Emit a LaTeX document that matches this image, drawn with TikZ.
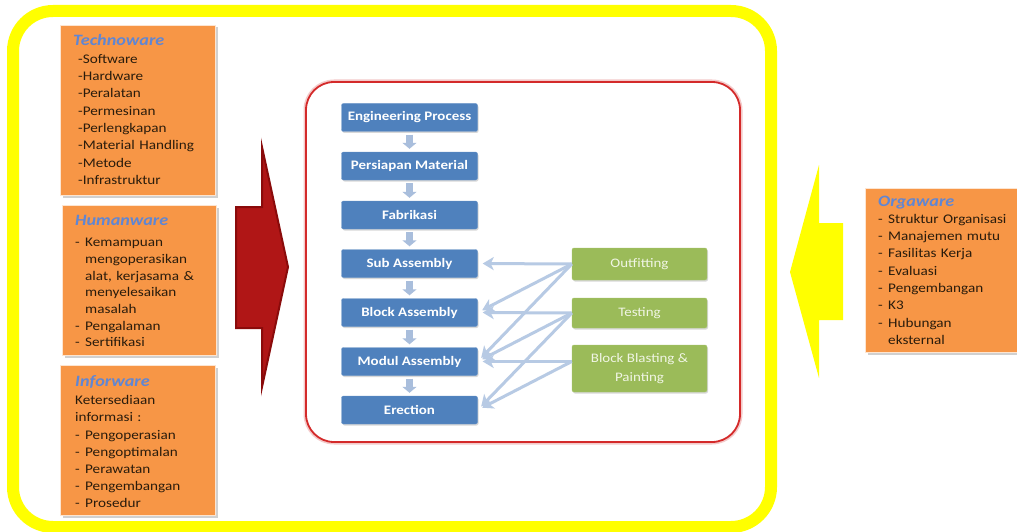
\documentclass[tikz,border=0pt]{standalone}
\usepackage{fontspec}
\setmainfont{Carlito}[FakeStretch=1.15]
\usetikzlibrary{arrows.meta,calc,shadows}
\definecolor{orangebox}{HTML}{F79646}
\definecolor{bluebox}{HTML}{4F81BD}
\definecolor{greenbox}{HTML}{9BBB59}
\definecolor{greentext}{HTML}{F0F5E4}
\definecolor{titleblue}{HTML}{5F86D4}
\definecolor{itemtext}{HTML}{2A1C0C}
\definecolor{linkblue}{HTML}{B7CAE4}
\definecolor{stepblue}{HTML}{A9BEDC}
\definecolor{framered}{HTML}{D42A2A}
\definecolor{bigred}{HTML}{B01616}
\definecolor{bigredline}{HTML}{8A0B0B}
\definecolor{frameyellow}{HTML}{FFFF00}
\newcommand\ttl{\fontsize{15.8}{17}\selectfont\bfseries\itshape\color{titleblue}}
\newcommand\itm[1]{\makebox[10pt][l]{-}#1}
\begin{document}
\begin{tikzpicture}[x=1pt,y=-1pt,
  panel/.style={draw=white!75!orangebox, line width=1pt, fill=orangebox, inner sep=0pt, anchor=north west,
    drop shadow={shadow xshift=2pt, shadow yshift=-2pt, opacity=0.3, fill=black!60}},
  wtext/.style={anchor=base west, inner sep=0pt, align=left, text=itemtext, font=\fontsize{13.2}{17.3}\selectfont},
  stepbox/.style={fill=bluebox, draw=bluebox!85!white, rounded corners=2pt, minimum width=136pt, minimum height=28pt,
    inner sep=0pt, text=white, font=\fontsize{13}{15}\selectfont\bfseries,
    drop shadow={shadow xshift=1pt, shadow yshift=-1.5pt, opacity=0.25, fill=black!60}},
  taskbox/.style={fill=greenbox, draw=greenbox!85!white, rounded corners=2pt, minimum width=135pt,
    inner sep=0pt, text=greentext, align=center, font=\fontsize{13}{19}\selectfont,
    drop shadow={shadow xshift=1pt, shadow yshift=-1.5pt, opacity=0.25, fill=black!60}},
  steparrow/.style={draw=stepblue, line width=7pt, shorten <=3pt, shorten >=3pt, -{Triangle[width=14pt,length=6pt]}},
  linkarrow/.style={draw=linkblue, line width=3pt, shorten >=5pt, -{Stealth[length=11pt,width=13pt,inset=3pt]}}
]
\clip (0,0) rectangle (1017,532);
\fill[white] (0,0) rectangle (1017,532);

% yellow frame
\draw[frameyellow, line width=12pt, rounded corners=40pt] (13,11) rectangle (771,527);

% left panels
\node[panel, minimum width=155pt, minimum height=170pt] (techbox) at (60,25) {};
\node[wtext, text width=140pt] (techtxt) at (73,46) {{\ttl Technoware}\\
\hspace*{5pt}-Software\\ \hspace*{5pt}-Hardware\\ \hspace*{5pt}-Peralatan\\ \hspace*{5pt}-Permesinan\\
\hspace*{5pt}-Perlengkapan\\ \hspace*{5pt}-Material Handling\\ \hspace*{5pt}-Metode\\ \hspace*{5pt}-Infrastruktur};

\node[panel, minimum width=154pt, minimum height=150pt] (humbox) at (62,205) {};
\node[wtext, text width=135pt, font=\fontsize{13.2}{16.7}\selectfont] (humtxt) at (75,225) {{\ttl Humanware}\par\vspace{5pt}
\hangindent=10pt\hangafter=1 \itm{Kemampuan}\newline mengoperasikan\newline \makebox[121pt][s]{alat, kerjasama \&}\newline menyelesaikan\newline masalah\par
\itm{Pengalaman}\par \itm{Sertifikasi}};

\node[panel, minimum width=155pt, minimum height=150pt] (infbox) at (60,365) {};
\node[wtext, text width=140pt, font=\fontsize{13.2}{17.2}\selectfont] (inftxt) at (75,386) {{\ttl Inforware}\par\vspace{1.5pt}
Ketersediaan\\ informasi :\\ \itm{Pengoperasian}\\ \itm{Pengoptimalan}\\ \itm{Perawatan}\\ \itm{Pengembangan}\\ \itm{Prosedur}};

% right panel
\node[panel, minimum width=160pt, minimum height=164pt] (orgbox) at (865,188) {};
\node[wtext, text width=135pt] (orgtxt) at (878,206) {{\ttl Orgaware}\par
\itm{Struktur Organisasi}\par \itm{Manajemen mutu}\par \itm{Fasilitas Kerja}\par \itm{Evaluasi}\par
\itm{Pengembangan}\par \itm{K3}\par \hangindent=10pt\hangafter=1 \itm{Hubungan}\newline eksternal\par};

% big arrows
\filldraw[fill=bigred, draw=bigredline, line width=2pt, line join=miter]
  (236,207) -- (262,207) -- (262,147) -- (288,267) -- (262,387) -- (262,328) -- (236,328) -- cycle;
\fill[frameyellow] (843,223) -- (819,223) -- (819,165) -- (790,272) -- (819,378) -- (819,320) -- (843,320) -- cycle;

% red frame
\draw[framered!25, line width=5pt, rounded corners=28pt] (306,82) rectangle (740,442);
\draw[framered, line width=1.8pt, rounded corners=28pt, fill=white] (306,82) rectangle (740,442);

% process steps
\node[stepbox] (eng) at (409.5,117.5) {Engineering Process};
\node[stepbox] (pers) at (409.5,166) {Persiapan Material};
\node[stepbox] (fab) at (409.5,215) {Fabrikasi};
\node[stepbox] (sub) at (409.5,263.5) {Sub Assembly};
\node[stepbox] (blk) at (409.5,312.5) {Block Assembly};
\node[stepbox] (mod) at (409.5,361.5) {Modul Assembly};
\node[stepbox] (ere) at (409.5,410) {Erection};

\draw[steparrow] (eng.south) -- (pers.north);
\draw[steparrow] (pers.south) -- (fab.north);
\draw[steparrow] (fab.south) -- (sub.north);
\draw[steparrow] (sub.south) -- (blk.north);
\draw[steparrow] (blk.south) -- (mod.north);
\draw[steparrow] (mod.south) -- (ere.north);

% support tasks
\node[taskbox, minimum height=32pt] (outf) at (639.5,264) {Outfitting};
\node[taskbox, minimum height=30pt] (test) at (639.5,313) {Testing};
\node[taskbox, minimum height=47pt] (blast) at (639.5,368.5) {Block Blasting \&\\ Painting};

\draw[linkarrow] (outf.west) -- (sub.east);
\draw[linkarrow] (outf.west) -- (blk.east);
\draw[linkarrow] (outf.west) -- (mod.east);
\draw[linkarrow] (test.west) -- (blk.east);
\draw[linkarrow] (test.west) -- (mod.east);
\draw[linkarrow] (test.west) -- (ere.east);
\draw[linkarrow] (blast.west |- mod.east) -- (mod.east);
\draw[linkarrow] (blast.west |- mod.east) -- (ere.east);
\end{tikzpicture}
\end{document}
